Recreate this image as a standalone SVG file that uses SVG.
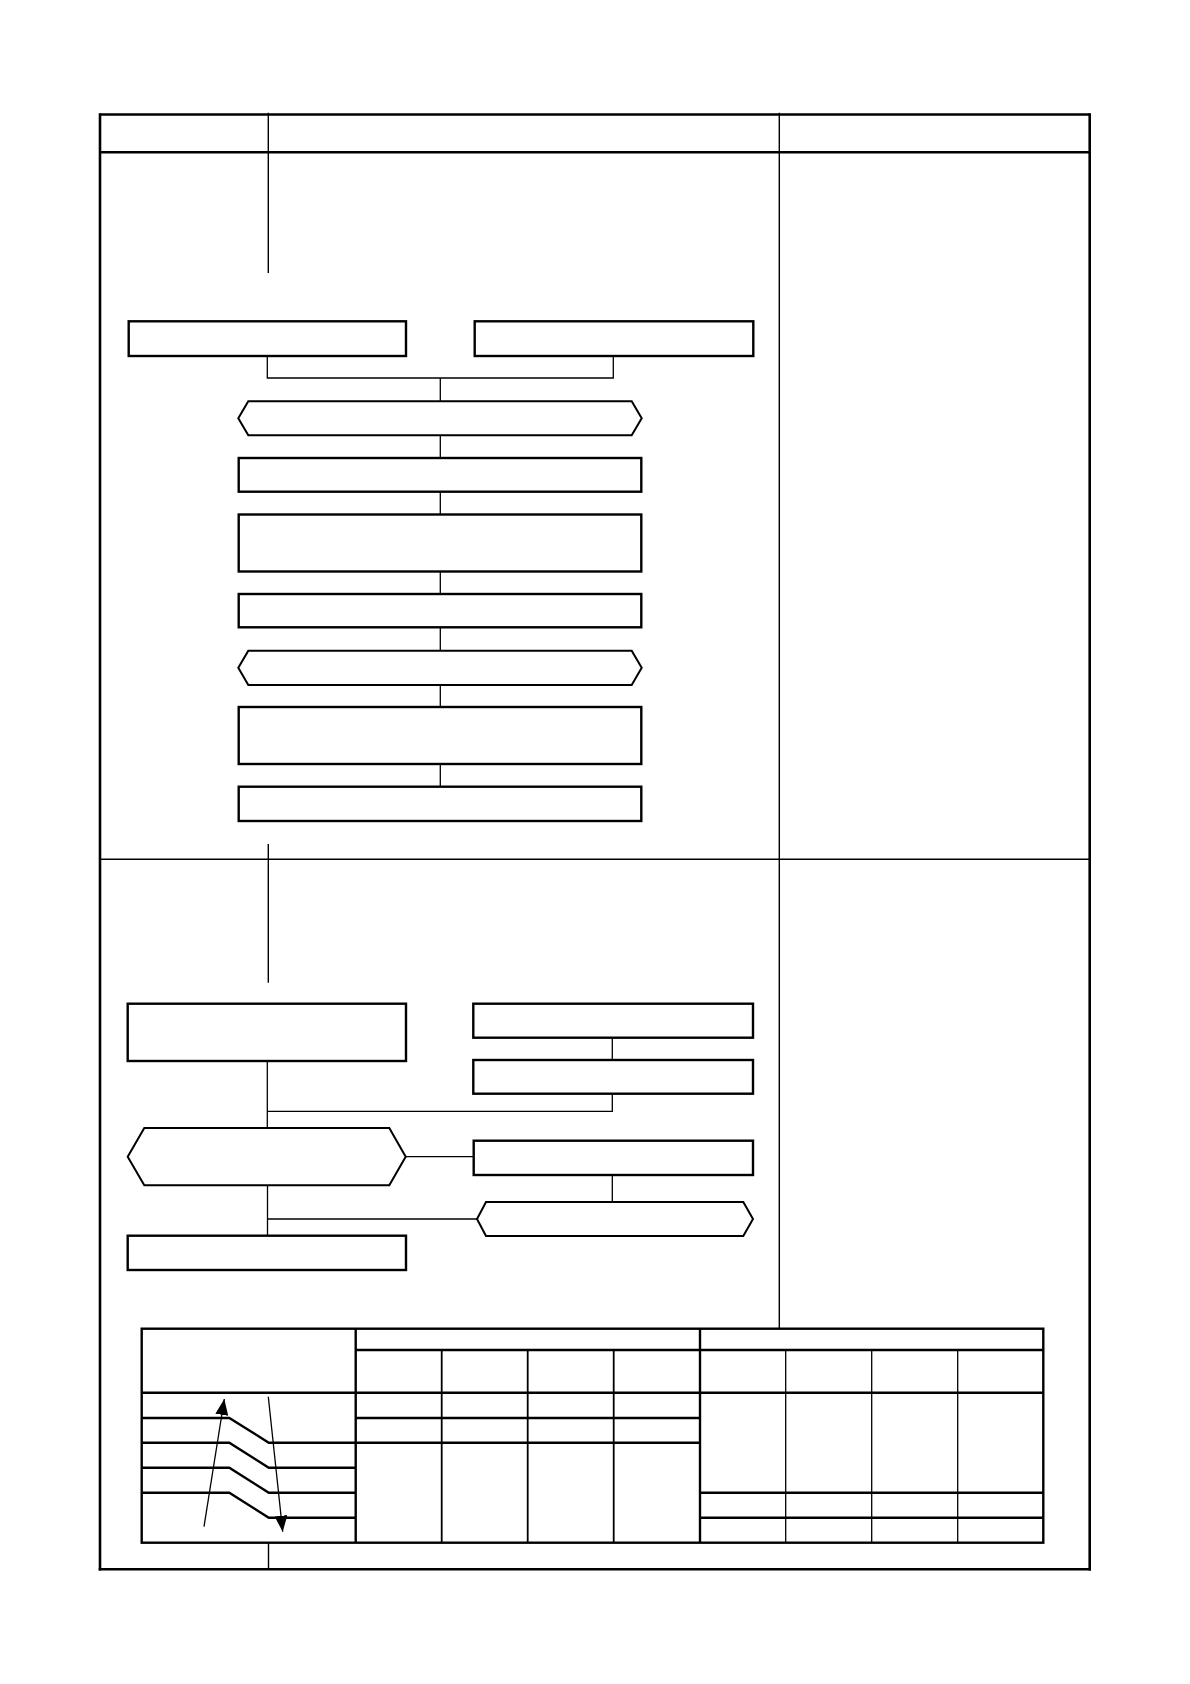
<svg xmlns="http://www.w3.org/2000/svg" width="1190" height="1684" viewBox="0 0 1190 1684">
<defs>
<style>
.frame{fill:none;stroke:#000;stroke-width:2.6}
.div{fill:none;stroke:#000;stroke-width:1.4}
.box{fill:#fff;stroke:#000;stroke-width:2.4}
.hex{fill:#fff;stroke:#000;stroke-width:2;stroke-linejoin:miter}
.con{fill:none;stroke:#000;stroke-width:1.3}
.tb{fill:none;stroke:#000;stroke-width:2.4}
.tm{fill:none;stroke:#000;stroke-width:1.8}
.tt{fill:none;stroke:#000;stroke-width:1.3}
.arr{fill:none;stroke:#000;stroke-width:1.3}
</style>
<marker id="ah" markerUnits="userSpaceOnUse" markerWidth="16" markerHeight="13" viewBox="0 0 16 13" refX="16" refY="6.5" orient="auto">
<path d="M0,0 L16,6.5 L0,13 Z" fill="#000"/>
</marker>
</defs>
<rect width="1190" height="1684" fill="#fff"/>
<g id="frame">
<line class="frame" x1="100" y1="114.5" x2="1089.7" y2="114.5"/>
<line class="frame" x1="100" y1="152.3" x2="1089.7" y2="152.3"/>
<line class="frame" x1="100" y1="113.3" x2="100" y2="1570.5" stroke-width="2.8"/>
<line class="frame" x1="1089.7" y1="113.3" x2="1089.7" y2="1570.5" stroke-width="2.8"/>
<line class="frame" x1="98.7" y1="1569.3" x2="1091" y2="1569.3" stroke-width="3.2"/>
<line class="div" x1="100" y1="859.3" x2="1089.7" y2="859.3" stroke-width="1.2"/>
<line class="div" x1="268.3" y1="112.7" x2="268.3" y2="273"/>
<line class="div" x1="268.3" y1="844" x2="268.3" y2="982.7"/>
<line class="div" x1="268.5" y1="1542.5" x2="268.5" y2="1569.3"/>
<line class="div" x1="779.3" y1="112.7" x2="779.3" y2="1328.7"/>
</g>
<g id="connectors">
<polyline class="con" points="267.3,356 267.3,378 613.3,378 613.3,356"/>
<line class="con" x1="440.3" y1="378" x2="440.3" y2="401.3"/>
<line class="con" x1="440.3" y1="435.3" x2="440.3" y2="458"/>
<line class="con" x1="440.3" y1="491.7" x2="440.3" y2="514.5"/>
<line class="con" x1="440.3" y1="571.5" x2="440.3" y2="594"/>
<line class="con" x1="440.3" y1="627.3" x2="440.3" y2="650.7"/>
<line class="con" x1="440.3" y1="685" x2="440.3" y2="707"/>
<line class="con" x1="440.3" y1="764" x2="440.3" y2="786.7"/>
<line class="con" x1="267.3" y1="1061" x2="267.3" y2="1128"/>
<polyline class="con" points="267.3,1111.3 612.3,1111.3 612.3,1093.7"/>
<line class="con" x1="612.3" y1="1037.7" x2="612.3" y2="1060"/>
<line class="con" x1="405.7" y1="1156.7" x2="473.7" y2="1156.7"/>
<line class="con" x1="267.5" y1="1185.3" x2="267.5" y2="1235.7"/>
<line class="con" x1="267.5" y1="1219" x2="477" y2="1219"/>
<line class="con" x1="612.3" y1="1175" x2="612.3" y2="1202"/>
</g>
<g id="nodeA"><rect class="box" x="128.7" y="321.3" width="277.3" height="34.7"/></g>
<g id="nodeB"><rect class="box" x="474.7" y="321.3" width="278.6" height="34.7"/></g>
<g id="nodeHex1"><polygon class="hex" points="248.3,401.3 631.7,401.3 641.7,418.3 631.7,435.3 248.3,435.3 238.3,418.3"/></g>
<g id="node3"><rect class="box" x="238.7" y="458" width="402.6" height="33.7"/></g>
<g id="node4"><rect class="box" x="238.7" y="514.5" width="402.6" height="57"/></g>
<g id="node5"><rect class="box" x="238.7" y="594" width="402.6" height="33.3"/></g>
<g id="nodeHex2"><polygon class="hex" points="248.3,650.7 631.7,650.7 641.7,667.8 631.7,685 248.3,685 238.3,667.8"/></g>
<g id="node6"><rect class="box" x="238.7" y="707" width="402.6" height="57"/></g>
<g id="node7"><rect class="box" x="238.7" y="786.7" width="402.6" height="34.3"/></g>
<g id="nodeC"><rect class="box" x="127.7" y="1003.7" width="278.3" height="57.3"/></g>
<g id="nodeD"><rect class="box" x="473.3" y="1003.7" width="279.7" height="34"/></g>
<g id="nodeE"><rect class="box" x="473.3" y="1060" width="279.7" height="33.7"/></g>
<g id="nodeHex3"><polygon class="hex" points="144.3,1128 389.3,1128 405.7,1156.7 389.3,1185.3 144.3,1185.3 127.7,1156.7"/></g>
<g id="nodeF"><rect class="box" x="473.7" y="1140.7" width="279.3" height="34.3"/></g>
<g id="nodeHex4"><polygon class="hex" points="486,1202 743.3,1202 753,1219 743.3,1236 486,1236 477,1219"/></g>
<g id="nodeG"><rect class="box" x="127.7" y="1235.7" width="278.3" height="34.3"/></g>
<g id="table">
<rect class="tb" x="141.7" y="1328.7" width="901.6" height="214"/>
<line class="tb" x1="355.7" y1="1328.7" x2="355.7" y2="1542.7"/>
<line class="tb" x1="700" y1="1328.7" x2="700" y2="1542.7"/>
<line class="tb" x1="355.7" y1="1350" x2="1043.3" y2="1350"/>
<line class="tb" x1="141.7" y1="1392.7" x2="1043.3" y2="1392.7"/>
<line class="tm" x1="441.7" y1="1350" x2="441.7" y2="1542.7"/>
<line class="tm" x1="527.7" y1="1350" x2="527.7" y2="1542.7"/>
<line class="tm" x1="613.7" y1="1350" x2="613.7" y2="1542.7"/>
<line class="tt" x1="785.7" y1="1350" x2="785.7" y2="1542.7"/>
<line class="tt" x1="871.7" y1="1350" x2="871.7" y2="1542.7"/>
<line class="tt" x1="957.7" y1="1350" x2="957.7" y2="1542.7"/>
<line class="tb" x1="355.7" y1="1418" x2="700" y2="1418"/>
<line class="tb" x1="355.7" y1="1442.7" x2="700" y2="1442.7"/>
<line class="tb" x1="700" y1="1492.7" x2="1043.3" y2="1492.7"/>
<line class="tb" x1="700" y1="1517.7" x2="1043.3" y2="1517.7"/>
<polyline class="tb" points="141.7,1418 229.3,1418 268.8,1442.7 355.7,1442.7"/>
<polyline class="tb" points="141.7,1442.7 229.3,1442.7 268.8,1467.7 355.7,1467.7"/>
<polyline class="tb" points="141.7,1467.7 229.3,1467.7 268.8,1492.7 355.7,1492.7"/>
<polyline class="tb" points="141.7,1492.7 229.3,1492.7 268.8,1517.7 355.7,1517.7"/>
<line class="arr" x1="204" y1="1526.7" x2="224.3" y2="1399" marker-end="url(#ah)"/>
<line class="arr" x1="268.3" y1="1396.7" x2="282.7" y2="1531.7" marker-end="url(#ah)"/>
</g>
</svg>
